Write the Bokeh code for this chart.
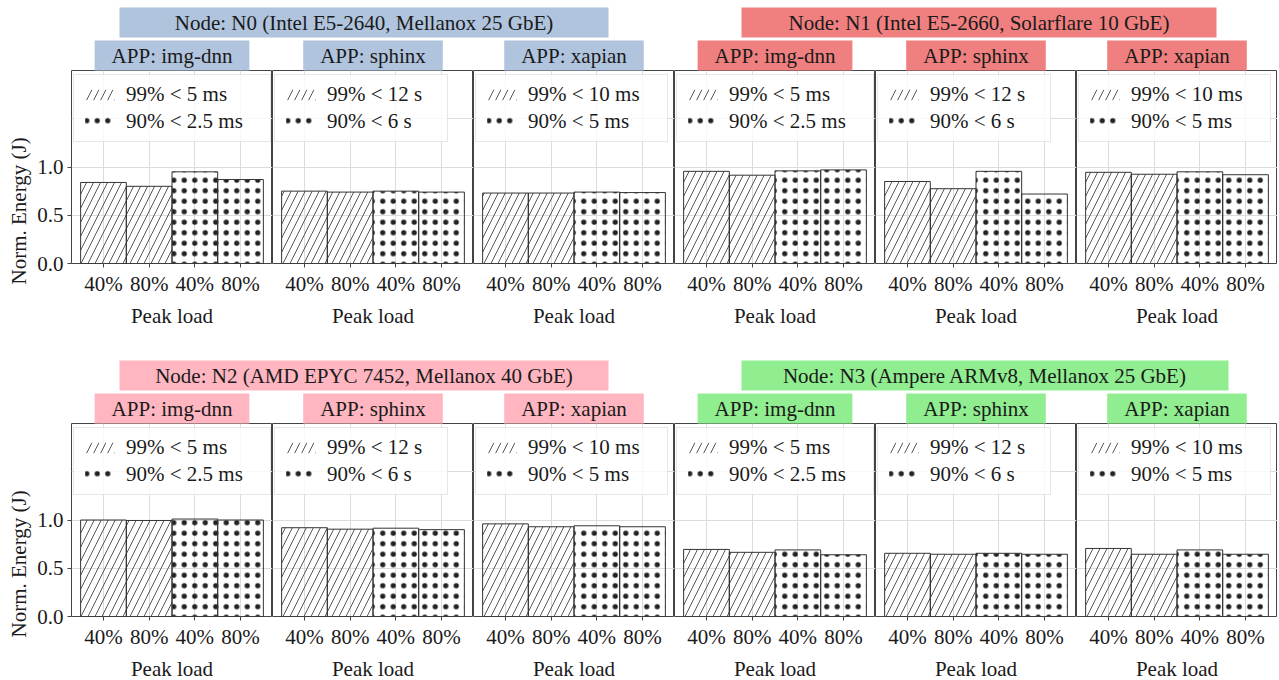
import math
from bokeh.plotting import figure
from bokeh.layouts import column, row
from bokeh.models import (Range1d, FixedTicker, Label, Legend, LegendItem, Title,
                          ColumnDataSource, BoxAnnotation, PrintfTickFormatter)
from bokeh.embed import file_html
from bokeh.resources import INLINE

# ---------------- data ----------------
loads = ["40%", "80%"]
apps = ["img-dnn", "sphinx", "xapian"]
slo_p99 = ["99% < 5 ms", "99% < 12 s", "99% < 10 ms"]
slo_p90 = ["90% < 2.5 ms", "90% < 6 s", "90% < 5 ms"]

node_titles = [
    "Node: N0 (Intel E5-2640, Mellanox 25 GbE)",
    "Node: N1 (Intel E5-2660, Solarflare 10 GbE)",
    "Node: N2 (AMD EPYC 7452, Mellanox 40 GbE)",
    "Node: N3 (Ampere ARMv8, Mellanox 25 GbE)",
]
node_colors = ["#b0c4de", "#f08080", "#ffb6c1", "#90ee90"]

# normalized energy, order: img-dnn 40%, 80%, sphinx 40%, 80%, xapian 40%, 80%
n0_p99 = [0.84, 0.80, 0.75, 0.74, 0.73, 0.73]
n0_p90 = [0.95, 0.87, 0.75, 0.74, 0.74, 0.735]
n1_p99 = [0.955, 0.915, 0.85, 0.775, 0.945, 0.925]
n1_p90 = [0.96, 0.97, 0.955, 0.72, 0.95, 0.92]
n2_p99 = [1.0, 0.995, 0.92, 0.905, 0.96, 0.93]
n2_p90 = [1.01, 1.0, 0.915, 0.90, 0.94, 0.93]
n3_p99 = [0.695, 0.665, 0.655, 0.645, 0.705, 0.645]
n3_p90 = [0.69, 0.64, 0.655, 0.645, 0.69, 0.645]

p99_all = [n0_p99, n1_p99, n2_p99, n3_p99]
p90_all = [n0_p90, n1_p90, n2_p90, n3_p90]

y_ticks = [0.0, 0.5, 1.0]

# ---------------- style ----------------
FONT = "Liberation Serif"
TXT = "#1a1a1a"
FS = "21px"
FRAME_W, FRAME_H = 201, 193
Y_MAX = 2.0
EDGE = "#333333"
GRID = "#dcdcdc"
TOP_BORDER = 31

legend_label_w = [137, 113, 132]
# header boxes (pixel space of header figure)
node_box = [(119, 608), (741, 1216), (119, 608), (741, 1228)]


def make_panel(node_i, app_i, first, bottom_border):
    p = figure(frame_width=FRAME_W, frame_height=FRAME_H,
               x_range=Range1d(-0.7, 3.7), y_range=Range1d(0, Y_MAX),
               output_backend="svg", toolbar_location=None,
               y_axis_location="left" if first else None,
               min_border=0, min_border_top=TOP_BORDER,
               min_border_bottom=bottom_border,
               min_border_left=71 if first else 0, min_border_right=0,
               background_fill_color="white", border_fill_color="white")
    p.outline_line_color = "#444444"
    p.outline_line_width = 1

    xs99 = [i for i in range(len(loads))]
    xs90 = [len(loads) + i for i in range(len(loads))]
    v99 = p99_all[node_i][2 * app_i: 2 * app_i + 2]
    v90 = p90_all[node_i][2 * app_i: 2 * app_i + 2]

    s99 = ColumnDataSource(dict(x=xs99, top=v99))
    s90 = ColumnDataSource(dict(x=xs90, top=v90))

    r99 = p.vbar(x="x", top="top", width=1.0, source=s99, fill_alpha=0,
                 line_color=None, hatch_pattern="/", hatch_color="#444444",
                 hatch_scale=14, hatch_weight=0.9)
    r90 = p.vbar(x="x", top="top", width=1.0, source=s90, fill_alpha=0,
                 line_color=None, hatch_pattern=".", hatch_color="#222222",
                 hatch_scale=10.5, hatch_weight=0.5)
    p.vbar(x="x", top="top", width=1.0, source=s99, fill_color=None,
           line_color=EDGE, line_width=1)
    p.vbar(x="x", top="top", width=1.0, source=s90, fill_color=None,
           line_color=EDGE, line_width=1)

    # grids
    p.xgrid.ticker = FixedTicker(ticks=xs99 + xs90)
    p.ygrid.ticker = FixedTicker(ticks=[0.5, 1.0, 1.5])
    p.grid.grid_line_color = GRID
    p.grid.grid_line_width = 1

    # x axis
    xa = p.xaxis[0]
    xa.ticker = FixedTicker(ticks=xs99 + xs90)
    xa.major_label_overrides = {x: loads[i % len(loads)] for i, x in enumerate(xs99 + xs90)}
    xa.axis_label = "Peak load"
    for ax in p.axis:
        ax.axis_line_color = None
        ax.major_tick_line_color = "#444444"
        ax.major_tick_out = 4
        ax.major_tick_in = 0
        ax.minor_tick_line_color = None
        ax.major_label_text_font = FONT
        ax.major_label_text_font_size = FS
        ax.major_label_text_color = TXT
        ax.axis_label_text_font = FONT
        ax.axis_label_text_font_size = FS
        ax.axis_label_text_font_style = "normal"
        ax.axis_label_text_color = TXT
    xa.major_label_standoff = 4
    xa.axis_label_standoff = 5
    if first:
        ya = p.yaxis[0]
        ya.ticker = FixedTicker(ticks=y_ticks)
        ya.formatter = PrintfTickFormatter(format="%.1f")
        ya.major_label_standoff = 4
        p.add_layout(Title(text="Norm. Energy (J)", align="left", offset=-21,
                           standoff=7, text_font=FONT, text_font_size=FS,
                           text_font_style="normal", text_color=TXT), "left")

    # legend
    leg = Legend(items=[LegendItem(label=slo_p99[app_i], renderers=[r99]),
                        LegendItem(label=slo_p90[app_i], renderers=[r90])],
                 location=(2, 121))
    leg.label_text_font = FONT
    leg.label_text_font_size = FS
    leg.label_text_color = TXT
    leg.glyph_width = 37
    leg.glyph_height = 13
    leg.label_height = 22
    leg.label_width = legend_label_w[app_i]
    leg.label_standoff = 8
    leg.spacing = 2
    leg.padding = 7
    leg.margin = 0
    leg.border_line_color = "#d0d0d0"
    leg.border_line_width = 1
    leg.background_fill_alpha = 0.8
    p.add_layout(leg)

    # APP title
    p.title = Title(text="APP: " + apps[app_i], align="center",
                    standoff=0, offset=0, text_font=FONT, text_font_size=FS,
                    text_font_style="normal", text_color=TXT,
                    background_fill_color=node_colors[node_i],
                    padding=dict(left=17, right=17, top=3, bottom=3))
    return p


def make_header(node_pair, height, box_top):
    w = 71 + 6 * FRAME_W
    h = figure(width=w, height=height, x_range=Range1d(0, w),
               y_range=Range1d(0, height), output_backend="svg",
               toolbar_location=None, x_axis_location=None,
               y_axis_location=None, min_border=0)
    h.grid.visible = False
    h.outline_line_color = None
    for ni in node_pair:
        l, r = node_box[ni]
        top = height - box_top
        bot = top - 30
        h.add_layout(BoxAnnotation(left=l, right=r, bottom=bot, top=top,
                                   fill_color=node_colors[ni], fill_alpha=1.0,
                                   line_color=None))
        h.add_layout(Label(x=(l + r) / 2, y=(top + bot) / 2, text=node_titles[ni],
                           text_align="center", text_baseline="middle",
                           text_font=FONT, text_font_size=FS, text_color=TXT))
    return h


row1 = []
for ni in (0, 1):
    for ai in range(3):
        row1.append(make_panel(ni, ai, (ni == 0 and ai == 0), 87))
row2 = []
for ni in (2, 3):
    for ai in range(3):
        row2.append(make_panel(ni, ai, (ni == 2 and ai == 0), 64))

layout = column(make_header((0, 1), 38, 7), row(*row1),
                make_header((2, 3), 41, 10), row(*row2))

open("out.html", "w").write(file_html(layout, INLINE))
